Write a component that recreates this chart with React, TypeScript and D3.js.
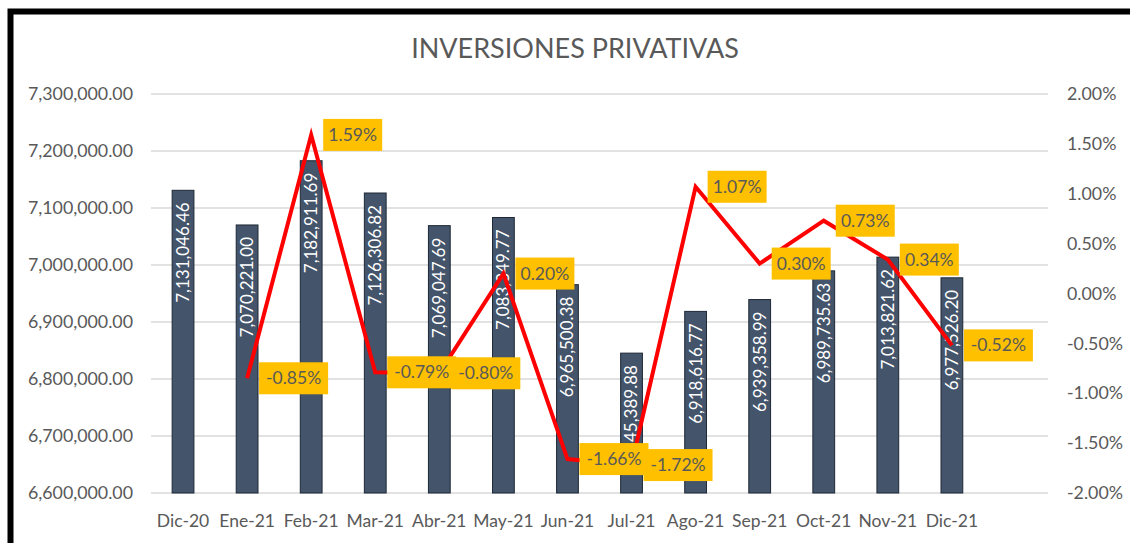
import React from "react";
import * as d3 from "d3";

const categories = ["Dic-20","Ene-21","Feb-21","Mar-21","Abr-21","May-21","Jun-21","Jul-21","Ago-21","Sep-21","Oct-21","Nov-21","Dic-21"];
const amounts = [7131046.46,7070221.00,7182911.69,7126306.82,7069047.69,7083349.77,6965500.38,6845389.88,6918616.77,6939358.99,6989735.63,7013821.62,6977526.20];
const changes: (number | null)[] = [null,-0.0085,0.0159,-0.0079,-0.0080,0.0020,-0.0166,-0.0172,0.0107,0.0030,0.0073,0.0034,-0.0052];
const leftTicks = [6600000,6700000,6800000,6900000,7000000,7100000,7200000,7300000];
const rightTicks = [-0.02,-0.015,-0.01,-0.005,0,0.005,0.01,0.015,0.02];
const title = "INVERSIONES PRIVATIVAS";

const W = 1130, H = 543;
const FONT = "Lato, 'Open Sans', sans-serif";
const TXT = "#595959";

const locale = d3.formatLocale({ decimal: ".", thousands: ",", grouping: [3], currency: ["$", ""], minus: "-" });

export default function App() {
  const plotL = 151, plotR = 1048, plotT = 94, plotB = 493;
  const x = d3.scaleBand<string>().domain([...categories, ""]).range([plotL, plotR]).paddingInner(0.66).paddingOuter(0.33);
  const yL = d3.scaleLinear().domain([6600000, 7300000]).range([plotB, plotT]);
  const yR = d3.scaleLinear().domain([-0.02, 0.02]).range([plotB, plotT]);
  const numFmt = locale.format(",.2f");
  const pctFmt = locale.format(".2%");
  const cx = (c: string) => (x(c) as number) + x.bandwidth() / 2;

  const pts = categories.map((c, i) => ({ c, v: changes[i] })).filter(d => d.v !== null) as { c: string; v: number }[];
  const line = d3.line<{ c: string; v: number }>().x(d => cx(d.c)).y(d => yR(d.v));

  return (
    <svg width={W} height={H} style={{ position: "absolute", left: 0, top: 0, background: "#fff" }} fontFamily={FONT}>
      <rect x={10.5} y={11.5} width={1200} height={600} fill="#fff" stroke="#000" strokeWidth={6} />
      <text x={575} y={58} textAnchor="middle" fontSize={27} fill={TXT}>{title}</text>
      {leftTicks.map(t => (
        <g key={"l" + t}>
          <line x1={plotL} x2={plotR} y1={yL(t)} y2={yL(t)} stroke="#d9d9d9" strokeWidth={1.3} />
          <text x={133} y={yL(t)} dy="0.35em" textAnchor="end" fontSize={17.8} fill={TXT}>{numFmt(t)}</text>
        </g>
      ))}
      {rightTicks.map(t => (
        <text key={"r" + t} x={1067} y={yR(t)} dy="0.35em" textAnchor="start" fontSize={17.8} fill={TXT}>{pctFmt(t)}</text>
      ))}
      {categories.map((c, i) => (
        <g key={"b" + c}>
          <rect x={x(c)} y={yL(amounts[i])} width={x.bandwidth()} height={plotB - yL(amounts[i])} fill="#44546A" stroke="#1e2836" strokeWidth={1} />
          <text transform={`translate(${cx(c)},${yL(amounts[i]) + 12}) rotate(-90)`} textAnchor="end" dy="0.35em" fontSize={17} fill="#fff">{numFmt(amounts[i])}</text>
          <text x={cx(c)} y={521} dy="0.35em" textAnchor="middle" fontSize={17.5} fill={TXT}>{c}</text>
        </g>
      ))}
      <path d={line(pts) as string} fill="none" stroke="#FF0000" strokeWidth={4} strokeLinejoin="miter" />
      {pts.map(d => {
        const label = pctFmt(d.v);
        const w = label.length * 10 + 9;
        return (
          <g key={"p" + d.c}>
            <rect x={cx(d.c) + 12} y={yR(d.v) - 16} width={w} height={32} fill="#FFC000" />
            <text x={cx(d.c) + 12 + w / 2} y={yR(d.v)} dy="0.35em" textAnchor="middle" fontSize={17.5} fill="#595959">{label}</text>
          </g>
        );
      })}
    </svg>
  );
}
